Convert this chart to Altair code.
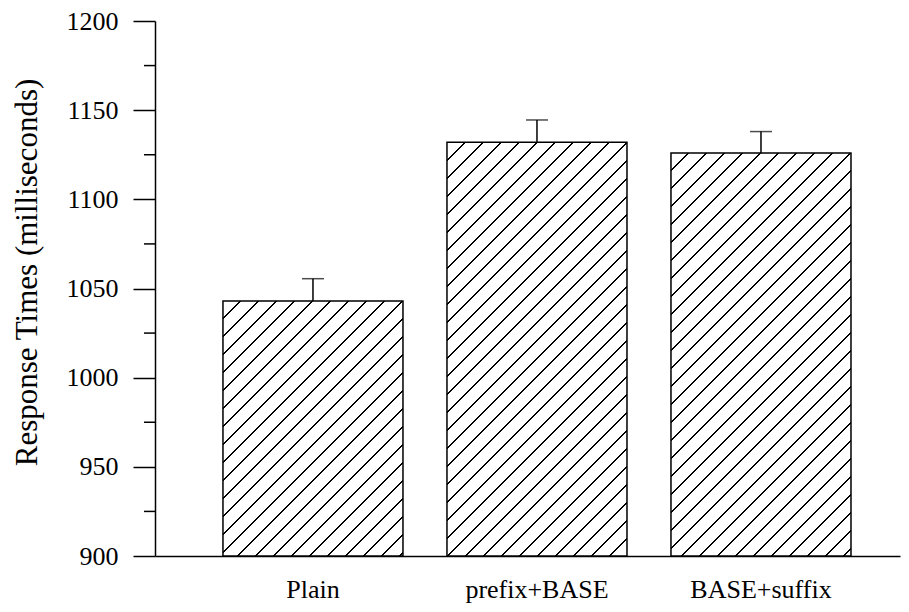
import altair as alt
import pandas as pd

# ---- data ----
categories = ["Plain", "prefix+BASE", "BASE+suffix"]
means = [1043, 1132, 1126]
errors = [12.5, 12.5, 12]
major_ticks = [900, 950, 1000, 1050, 1100, 1150, 1200]
minor_ticks = [925, 975, 1025, 1075, 1125, 1175]
y_title = "Response Times (milliseconds)"

df = pd.DataFrame({"condition": categories, "rt": means, "err": errors})
df["upper"] = df["rt"] + df["err"]
minor_df = pd.DataFrame({"tick": minor_ticks})

# ---- layout / style ----
W, H = 745, 535
Y0, Y1 = 900, 1200
PAD_IN, PAD_OUT, ALIGN = 0.1964, 0.2611, 0.581
FONT = "Liberation Serif"
step = W / (len(categories) - PAD_IN + 2 * PAD_OUT)
bar_w = step * (1 - PAD_IN)
HATCH_GAP = 18.0   # px along x+y
HATCH_LW = 2.0     # px along x+y


def hatch_fill(value):
    """Linear gradient with hard stops that renders '/' hatching at 45 deg."""
    h = (value - Y0) * H / (Y1 - Y0)
    w = bar_w
    c = (1 / h + 1 / w) / (1 / h ** 2 + 1 / w ** 2)
    x2, y2 = c / h, c / w
    S = w + h
    p, lt = HATCH_GAP / S, HATCH_LW / S
    stops = [{"offset": 0, "color": "white"}]
    k = 1
    while k * p + lt / 2 < 1:
        cpos = k * p
        a, b = cpos - lt / 2, cpos + lt / 2
        stops += [
            {"offset": round(a, 5), "color": "white"},
            {"offset": round(a, 5), "color": "black"},
            {"offset": round(b, 5), "color": "black"},
            {"offset": round(b, 5), "color": "white"},
        ]
        k += 1
    stops.append({"offset": 1, "color": "white"})
    return {"gradient": "linear", "x1": 0, "y1": 0, "x2": x2, "y2": y2, "stops": stops}


xscale = alt.Scale(domain=categories, paddingInner=PAD_IN, paddingOuter=PAD_OUT, align=ALIGN)
xaxis = alt.Axis(title=None, labelAngle=0, ticks=False, domainColor="black", domainWidth=1.5,
                 labelFont=FONT, labelFontSize=26, labelColor="black", labelPadding=20)
yscale = alt.Scale(domain=[Y0, Y1], zero=False, nice=False)
yaxis = alt.Axis(title=y_title, values=major_ticks, format="d", tickSize=22, tickColor="black",
                 tickWidth=1.5, domainColor="black", domainWidth=1.5, grid=False,
                 labelFont=FONT, labelFontSize=26, labelColor="black", labelPadding=15,
                 titleFont=FONT, titleFontSize=31, titleFontWeight="normal", titleColor="black",
                 titleAngle=-90, titleAlign="center", titleBaseline="middle",
                 titleX=-128, titleY=251)

X = alt.X("condition:N", sort=categories, scale=xscale, axis=xaxis)

layers = []
for cat, val in zip(categories, means):
    layers.append(
        alt.Chart(df).transform_filter(alt.datum.condition == cat)
        .mark_bar(fill=hatch_fill(val), stroke="black", strokeWidth=1.5)
        .encode(x=X, y=alt.Y("rt:Q", scale=yscale, axis=yaxis), y2=alt.datum(Y0))
    )

stems = alt.Chart(df).mark_rule(color="black", strokeWidth=1.5).encode(
    x=X, y=alt.Y("rt:Q", scale=yscale, axis=yaxis), y2="upper:Q")
caps = alt.Chart(df).mark_tick(orient="horizontal", size=22, thickness=1.5, color="black").encode(
    x=X, y=alt.Y("upper:Q", scale=yscale, axis=yaxis))
minor = alt.Chart(minor_df).mark_rule(color="black", strokeWidth=1.5).encode(
    y=alt.Y("tick:Q", scale=yscale, axis=yaxis), x=alt.value(-11), x2=alt.value(0))

chart = alt.layer(*layers, stems, caps, minor).properties(
    width=W, height=H,
    autosize=alt.AutoSizeParams(type="none"),
    padding={"left": 147, "top": 13, "right": 1, "bottom": 48},
    background="white",
).configure_view(stroke=None)

chart.save("out.html", embed_options={"renderer": "svg", "actions": False})
